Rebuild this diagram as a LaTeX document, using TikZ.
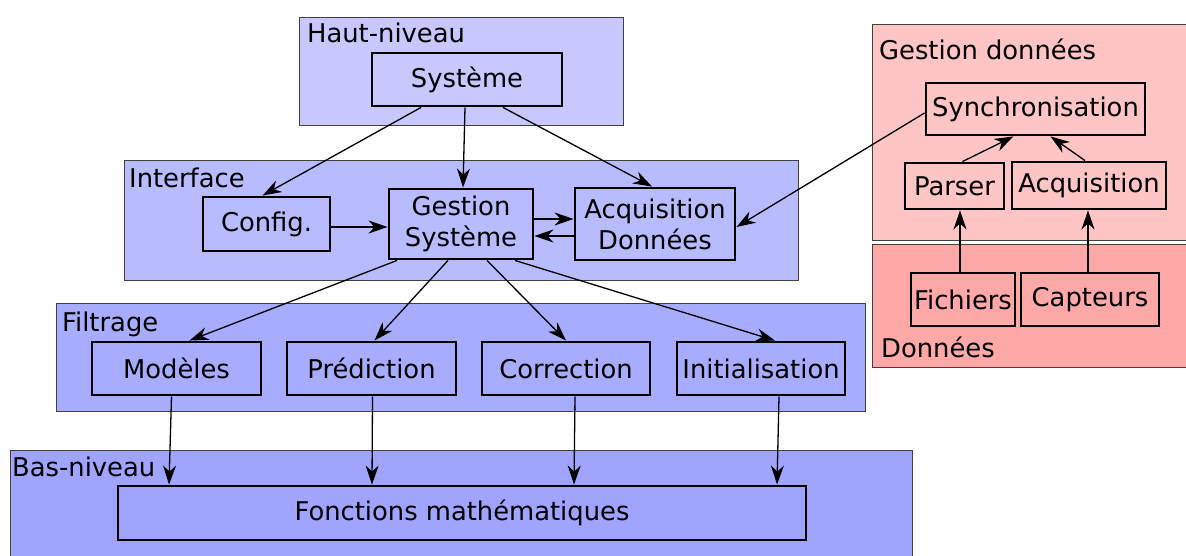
\documentclass[tikz,border=0pt]{standalone}
\usepackage{fontspec}
\setmainfont{DejaVu Sans}
\usetikzlibrary{arrows.meta}
\definecolor{hautcol}{HTML}{C8C8FF}
\definecolor{intercol}{HTML}{B8BCFF}
\definecolor{filtcol}{HTML}{A8ACFF}
\definecolor{bascol}{HTML}{A0A4FF}
\definecolor{gestcol}{HTML}{FFC4C4}
\definecolor{donncol}{HTML}{FFA8A8}
\tikzset{
	grp/.style={draw=black!75, line width=1pt, inner sep=0pt},
	blk/.style={draw=black, line width=2.9pt, inner sep=0pt, align=center},
	lbl/.style={anchor=base west, inner sep=0pt},
	every node/.style={font=\fontsize{25.8}{31}\selectfont}
}

\begin{document}
\begin{tikzpicture}[x=1pt, y=-1pt, line width=1.3pt, >={Stealth[length=19pt, width=13pt, inset=6pt]}]

	\useasboundingbox (0,0) rectangle (1186,556);

	% groupes
	\node[grp, fill=hautcol,  minimum width=324, minimum height=108] (haut)  at (461,72)    {};
	\node[grp, fill=intercol, minimum width=674, minimum height=119] (inter) at (461,220.5) {};
	\node[grp, fill=filtcol,  minimum width=809, minimum height=108] (filt)  at (460.5,357) {};
	\node[grp, fill=bascol,   minimum width=902, minimum height=112] (bas)   at (461,506)   {};
	\node[grp, fill=gestcol,  minimum width=318, minimum height=216] (gest)  at (1031,133)  {};
	\node[grp, fill=donncol,  minimum width=318, minimum height=122] (donn)  at (1031,306)  {};

	\node[lbl] (lhaut)  at ([shift={(8,25)}]haut.north west)  {Haut-niveau};
	\node[lbl] (linter) at ([shift={(5,27)}]inter.north west) {Interface};
	\node[lbl] (lfilt)  at ([shift={(6,29)}]filt.north west)  {Filtrage};
	\node[lbl] (lbas)   at ([shift={(2,27)}]bas.north west)   {Bas-niveau};
	\node[lbl] (lgest)  at ([shift={(7,35)}]gest.north west)  {Gestion données};
	\node[lbl] (ldonn)  at ([shift={(9,-10)}]donn.south west) {Données};

	% blocs
	\node[blk, minimum width=190, minimum height=53] (sys)  at (467,79.5)  {Système};
	\node[blk, minimum width=127, minimum height=54] (conf) at (266.5,224) {Config.};
	\node[blk, minimum width=144, minimum height=70] (gsys) at (461,224)   {Gestion\\Système};
	\node[blk, minimum width=160, minimum height=72] (acqd) at (655,224)   {Acquisition\\Données};

	\node[blk, minimum width=169, minimum height=53] (mod)  at (176.5,368.5) {Modèles};
	\node[blk, minimum width=169, minimum height=53] (pred) at (371.5,368.5) {Prédiction};
	\node[blk, minimum width=168, minimum height=53] (corr) at (566,368.5)   {Correction};
	\node[blk, minimum width=168, minimum height=53] (init) at (761,368.5)   {Initialisation};

	\node[blk, minimum width=688, minimum height=54] (fonc) at (462,513) {Fonctions mathématiques};

	\node[blk, minimum width=219, minimum height=52] (sync) at (1035.5,109)  {Synchronisation};
	\node[blk, minimum width=99,  minimum height=46] (pars) at (954.5,186)   {Parser};
	\node[blk, minimum width=154, minimum height=47] (acq)  at (1089,185.5)  {Acquisition};
	\node[blk, minimum width=104, minimum height=53] (fich) at (963,299.5)   {Fichiers};
	\node[blk, minimum width=138, minimum height=53] (capt) at (1090,299.5)  {Capteurs};

	% haut-niveau vers interface
	\draw[->] ([xshift=-46]sys.south) -- ([xshift=-4]conf.north);
	\draw[->] ([xshift=-2]sys.south) -- ([xshift=2]gsys.north);
	\draw[->] ([xshift=36]sys.south) -- ([xshift=-3]acqd.north);

	\draw[->] ([yshift=-3]conf.east) -- ([yshift=-3]gsys.west);
	\draw[->] ([yshift=5]gsys.east) -- ([yshift=5]acqd.west);
	\draw[->] ([yshift=-12]acqd.west) -- ([yshift=-12]gsys.east);

	% gestion des donnees
	\draw[->] ([yshift=-4]sync.west) -- ([yshift=-3]acqd.east);
	\draw[->] ([xshift=8]pars.north) -- ([xshift=-22]sync.south);
	\draw[->] ([xshift=-4]acq.north) -- ([xshift=15]sync.south);
	\draw[->] ([xshift=-3]fich.north) -- ([xshift=5.5]pars.south);
	\draw[->] ([xshift=-2]capt.north) -- ([xshift=-1]acq.south);

	% filtrage
	\draw[->] ([xshift=-64]gsys.south) -- ([xshift=13]mod.north);
	\draw[->] ([xshift=-13]gsys.south) -- ([xshift=3]pred.north);
	\draw[->] ([xshift=26]gsys.south) -- (corr.north);
	\draw[->] ([xshift=54]gsys.south) -- ([xshift=14]init.north);

	% bas-niveau
	\draw[->] ([xshift=-5]mod.south) -- ([xshift=-293]fonc.north);
	\draw[->] ([xshift=1]pred.south) -- ([xshift=-90]fonc.north);
	\draw[->] ([xshift=9]corr.south) -- ([xshift=112]fonc.north);
	\draw[->] ([xshift=18]init.south) -- ([xshift=315]fonc.north);

\end{tikzpicture}
\end{document}
